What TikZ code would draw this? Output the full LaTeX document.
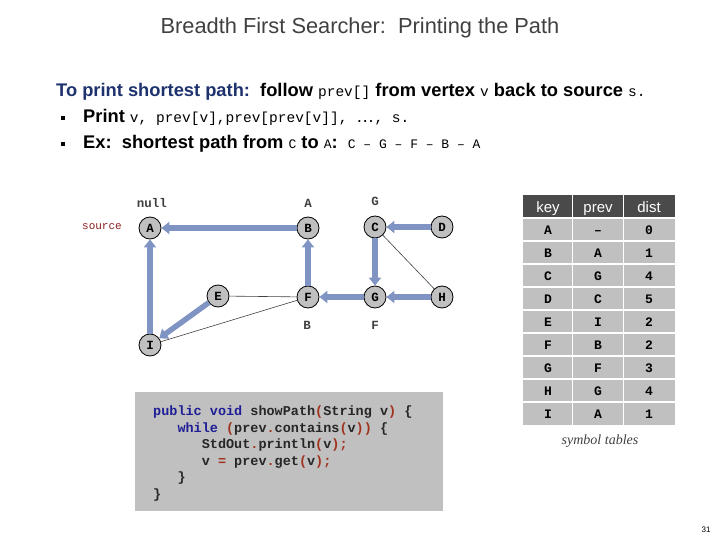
\documentclass[tikz,border=0pt]{standalone}
\usepackage{fontspec}
\setmainfont{Liberation Sans}
\newfontfamily\monof{Liberation Mono}
\newfontfamily\serf{Liberation Serif}
\usetikzlibrary{arrows.meta}
\definecolor{edgeblue}{RGB}{127,148,194}
\definecolor{nodegray}{RGB}{192,192,192}
\definecolor{titlegray}{RGB}{64,64,64}
\definecolor{headblue}{RGB}{30,50,110}
\definecolor{kwblue}{RGB}{30,30,150}
\definecolor{punred}{RGB}{160,50,30}
\definecolor{codegray}{RGB}{192,192,192}
\definecolor{srcred}{RGB}{140,30,30}
\definecolor{tabhead}{RGB}{74,74,74}
\definecolor{tabcell}{RGB}{192,192,192}
\tikzset{
  vtx/.style={circle, draw=black, line width=0.8pt, fill=nodegray, minimum size=22pt, inner sep=0pt, font=\monof\bfseries\fontsize{12.5}{12.5}\selectfont},
  tree/.style={draw=edgeblue, line width=5.5pt, -{Triangle[length=8pt,width=12pt]}},
  nontree/.style={draw=titlegray, line width=0.6pt},
  plabel/.style={font=\monof\bfseries\fontsize{12.5}{12.5}\selectfont, text=titlegray},
  cell/.style={font=\monof\bfseries\fontsize{13}{13}\selectfont, text=black, anchor=base},
  hcell/.style={font=\fontsize{15}{15}\selectfont, text=white, anchor=base},
  txt/.style={anchor=base west, font=\bfseries\fontsize{18.3}{18.3}\selectfont, inner sep=0pt},
}
\newcommand{\mt}[1]{{\monof\mdseries\fontsize{14.5}{14.5}\selectfont #1}}
\newcommand{\mts}[1]{{\monof\mdseries\fontsize{13}{13}\selectfont #1}}
\begin{document}
\begin{tikzpicture}[x=1pt,y=-1pt]
\useasboundingbox (0,0) rectangle (720,540);
% title
\node[font=\fontsize{21.8}{21.8}\selectfont, text=titlegray] (title) at (360,28) {Breadth First Searcher:\ \ Printing the Path};
% text lines
\node[txt] (l1) at (56,97)
  {\textcolor{headblue}{To print shortest path:}\ \ follow \mt{prev[]} from vertex \mt{v} back to source \mt{s.}};
\node[inner sep=0pt] (b1) at (63,118) {\rule{3.2pt}{3.2pt}};
\node[txt] (l2) at (83,123)
  {Print \mt{v, prev[v],prev[prev[v]], }{\mdseries …}\mt{, s.}};
\node[inner sep=0pt] (b2) at (63,144) {\rule{3.2pt}{3.2pt}};
\node[txt] (l3) at (83,149)
  {Ex:\ \ shortest path from \mts{C} to \mts{A}:\ \ \mts{C – G – F – B – A}};
% graph nodes
\node[vtx] (A) at (150,228) {A};
\node[vtx] (B) at (308,228) {B};
\node[vtx] (C) at (375,227) {C};
\node[vtx] (D) at (442,227) {D};
\node[vtx] (E) at (218,296) {E};
\node[vtx] (F) at (308,297) {F};
\node[vtx] (G) at (375,297) {G};
\node[vtx] (H) at (442,297) {H};
\node[vtx] (I) at (150,345) {I};
% prev labels
\node[plabel] (pA) at (152,203) {null};
\node[plabel] (pB) at (308,203) {A};
\node[plabel] (pC) at (375,201) {G};
\node[plabel] (pF) at (307,325) {B};
\node[plabel] (pG) at (375,325) {F};
\node[font=\monof\fontsize{11}{11}\selectfont, text=srcred] (src) at (102,227) {source};
% non-tree edges
\draw[nontree] (E) -- (F);
\draw[nontree] (I) -- (F);
\draw[nontree] (C) -- (H);
% tree edges
\draw[tree] (B) -- (A);
\draw[tree] (I) -- (A);
\draw[tree] (E) -- (I);
\draw[tree] (F) -- (B);
\draw[tree] (G) -- (F);
\draw[tree] (C) -- (G);
\draw[tree] (D) -- (C);
\draw[tree] (H) -- (G);
% code box
\fill[codegray] (135,392) rectangle (443,511);
\node[anchor=north west, align=left, inner sep=0pt, font=\monof\bfseries\fontsize{13.5}{16.5}\selectfont, text=black!85] (code) at (153,406)
 {\textcolor{kwblue}{public void} showPath\textcolor{punred}{(}String v\textcolor{punred}{)} \{\\
  \ \ \ \textcolor{kwblue}{while} \textcolor{punred}{(}prev\textcolor{punred}{.}contains\textcolor{punred}{(}v\textcolor{punred}{))} \{\\
  \ \ \ \ \ \ StdOut\textcolor{punred}{.}println\textcolor{punred}{(}v\textcolor{punred}{);}\\
  \ \ \ \ \ \ v \textcolor{punred}{=} prev\textcolor{punred}{.}get\textcolor{punred}{(}v\textcolor{punred}{);}\\
  \ \ \ \}\\
  \}};
% table
\fill[tabhead] (523,195) rectangle (675,218);
\fill[tabcell] (523,218) rectangle (675,425);
\foreach \yy in {218,241,264,287,310,333,356,379,402}
  \draw[white, line width=1.5pt] (523,\yy) -- (675,\yy);
\draw[white, line width=1.5pt] (572.7,195) -- (572.7,425);
\draw[white, line width=1.5pt] (623.7,195) -- (623.7,425);
\node[hcell] (hk) at (548,212) {key};
\node[hcell] (hp) at (598,212) {prev};
\node[hcell] (hd) at (649,212) {dist};
\foreach \k/\p/\d [count=\i] in {A/–/0, B/A/1, C/G/4, D/C/5, E/I/2, F/B/2, G/F/3, H/G/4, I/A/1} {
  \node[cell] (k\i) at (548,{211+23*\i}) {\k};
  \node[cell] (p\i) at (598,{211+23*\i}) {\p};
  \node[cell] (d\i) at (649,{211+23*\i}) {\d};
}
\node[font=\serf\itshape\fontsize{14}{14}\selectfont, text=titlegray] (symt) at (600,441) {symbol tables};
\node[font=\fontsize{8}{8}\selectfont] (pg) at (706,530) {31};
\end{tikzpicture}
\end{document}
